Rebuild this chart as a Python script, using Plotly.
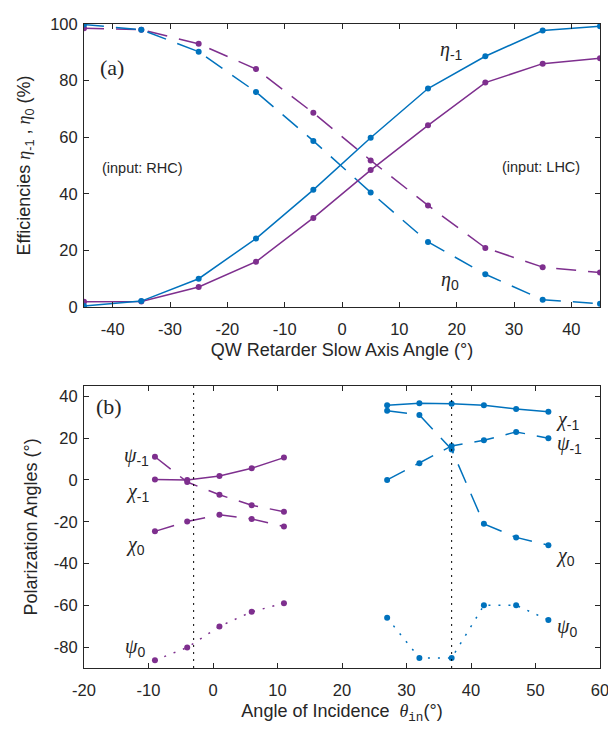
import plotly.graph_objects as go

# ---------------- data: panel (a) ----------------
qw_angle = [-45, -35, -25, -15, -5, 5, 15, 25, 35, 45]
eta_m1_blue = [0.4, 2.1, 10.0, 24.2, 41.4, 59.8, 77.2, 88.6, 97.7, 99.2]
eta_m1_purple = [1.9, 2.0, 7.1, 16.0, 31.5, 48.4, 64.2, 79.3, 86.0, 87.9]
eta_0_blue = [99.8, 98.0, 90.2, 76.0, 58.7, 40.5, 23.0, 11.6, 2.6, 1.2]
eta_0_purple = [98.5, 98.0, 93.0, 84.1, 68.6, 51.8, 35.9, 20.9, 14.1, 12.2]

# ---------------- data: panel (b) ----------------
aoi_left = [-9, -4, 1, 6, 11]
chi_m1_left = [0.2, 0.0, 1.9, 5.6, 10.7]
psi_m1_left = [11.1, -1.0, -7.1, -12.1, -15.2]
chi_0_left = [-24.6, -19.9, -16.6, -18.7, -22.3]
psi_0_left = [-86.3, -80.2, -70.1, -63.1, -59.0]

aoi_right = [27, 32, 37, 42, 47, 52]
chi_m1_right = [35.8, 36.7, 36.5, 35.8, 34.0, 32.6]
psi_m1_right = [0.0, 8.0, 16.3, 19.0, 23.0, 20.0]
chi_0_right = [33.1, 31.1, 14.6, -21.0, -27.5, -31.2]
psi_0_right = [-66.0, -85.2, -85.2, -60.0, -60.0, -67.0]

critical_angles = [-3, 37]

# ---------------- tick labels ----------------
x1_ticks = [-40, -30, -20, -10, 0, 10, 20, 30, 40]
y1_ticks = [0, 20, 40, 60, 80, 100]
x2_ticks = [-20, -10, 0, 10, 20, 30, 40, 50, 60]
y2_ticks = [-80, -60, -40, -20, 0, 20, 40]
x1_labels = ["-40", "-30", "-20", "-10", "0", "10", "20", "30", "40"]
y1_labels = ["0", "20", "40", "60", "80", "100"]
x2_labels = ["-20", "-10", "0", "10", "20", "30", "40", "50", "60"]
y2_labels = ["-80", "-60", "-40", "-20", "0", "20", "40"]

BLUE = "#0072BD"
PURPLE = "#7E2F8E"
AX = "#262626"
DASH = "20px,12px"
DOT = "2px,8px"

fig = go.Figure()


def add(x, y, color, dash, xa, ya):
    fig.add_trace(go.Scatter(
        x=x, y=y, mode="lines+markers", xaxis=xa, yaxis=ya,
        line=dict(color=color, width=1.5, dash=dash),
        marker=dict(color=color, size=6), showlegend=False,
        hoverinfo="skip"))


add(qw_angle, eta_0_purple, PURPLE, DASH, "x", "y")
add(qw_angle, eta_0_blue, BLUE, DASH, "x", "y")
add(qw_angle, eta_m1_purple, PURPLE, "solid", "x", "y")
add(qw_angle, eta_m1_blue, BLUE, "solid", "x", "y")

add(aoi_left, chi_m1_left, PURPLE, "solid", "x2", "y2")
add(aoi_left, psi_m1_left, PURPLE, DASH, "x2", "y2")
add(aoi_left, chi_0_left, PURPLE, DASH, "x2", "y2")
add(aoi_left, psi_0_left, PURPLE, DOT, "x2", "y2")

add(aoi_right, chi_m1_right, BLUE, "solid", "x2", "y2")
add(aoi_right, psi_m1_right, BLUE, DASH, "x2", "y2")
add(aoi_right, chi_0_right, BLUE, DASH, "x2", "y2")
add(aoi_right, psi_0_right, BLUE, DOT, "x2", "y2")

for xc in critical_angles:
    fig.add_trace(go.Scatter(
        x=[xc, xc], y=[-90, 45], mode="lines", xaxis="x2", yaxis="y2",
        line=dict(color="#000000", width=1, dash="2px,5px"),
        showlegend=False, hoverinfo="skip"))

SERIF = "Liberation Serif"
SANS = "Liberation Sans"


def g(sym):
    return "<span style='font-family:%s'><i>%s</i></span>" % (SERIF, sym)


anns = []


def ann(text, x, y, xref, yref, size=17, family=SANS, xanchor="left"):
    anns.append(dict(text=text, x=x, y=y, xref=xref, yref=yref,
                     showarrow=False, xanchor=xanchor, yanchor="middle",
                     font=dict(family=family, size=size, color=AX)))


ann("(a)", -42.6, 84.7, "x", "y", size=22, family=SERIF)
ann("(input: RHC)", -34.8, 49, "x", "y", size=14.5, xanchor="center")
ann("(input: LHC)", 34.7, 49.5, "x", "y", size=14.5, xanchor="center")
ann(g("η") + "<sub>-1</sub>", 16.8, 90.5, "x", "y", size=20)
ann(g("η") + "<sub>0</sub>", 17.0, 9.5, "x", "y", size=20)

ann("(b)", -18.4, 35, "x2", "y2", size=22, family=SERIF)
ann(g("ψ") + "<sub>-1</sub>", -9.6, 11, "x2", "y2", size=20, xanchor="right")
ann(g("χ") + "<sub>-1</sub>", -9.6, -6, "x2", "y2", size=20, xanchor="right")
ann(g("χ") + "<sub>0</sub>", -10.2, -31.5, "x2", "y2", size=20, xanchor="right")
ann(g("ψ") + "<sub>0</sub>", -10.2, -80, "x2", "y2", size=20, xanchor="right")
ann(g("χ") + "<sub>-1</sub>", 52.8, 28.5, "x2", "y2", size=20)
ann(g("ψ") + "<sub>-1</sub>", 53.0, 17.2, "x2", "y2", size=20)
ann(g("χ") + "<sub>0</sub>", 52.8, -36.5, "x2", "y2", size=20)
ann(g("ψ") + "<sub>0</sub>", 53.0, -70.5, "x2", "y2", size=20)

axis_common = dict(showline=True, linecolor=AX, linewidth=1, mirror="ticks",
                   ticks="inside", ticklen=5, tickcolor=AX, tickwidth=1,
                   showgrid=False, zeroline=False, ticklabeloverflow="allow",
                   tickfont=dict(family=SANS, size=16.5, color=AX))

# the page body adds an 8px margin, so the figure is 8px smaller than the window
fig.update_layout(
    width=608, height=722,
    margin=dict(l=76, r=9, t=7, b=62),
    paper_bgcolor="white", plot_bgcolor="white",
    font=dict(family=SANS, color=AX),
    annotations=anns,
    xaxis=dict(domain=[0, 1], anchor="y", range=[-45, 45], tickvals=x1_ticks, ticktext=x1_labels,
               ticklabelstandoff=7,
               title=dict(text="QW Retarder Slow Axis Angle (°)", font=dict(size=18), standoff=6),
               **axis_common),
    yaxis=dict(domain=[0.5605, 1], anchor="x", range=[0, 100], tickvals=y1_ticks, ticktext=y1_labels,
               ticklabelstandoff=2,
               title=dict(text="Efficiencies " + g("η") + "<sub>-1</sub> , " + g("η") + "<sub>0</sub> (%)",
                          font=dict(size=18), standoff=14),
               **axis_common),
    xaxis2=dict(domain=[0, 1], anchor="y2", range=[-20, 60], tickvals=x2_ticks, ticktext=x2_labels,
                ticklabelstandoff=7,
                title=dict(text="Angle of Incidence  " + g("θ") +
                           "<sub><span style='font-family:Liberation Mono'>in</span></sub>(°)",
                           font=dict(size=18), standoff=6),
                **axis_common),
    yaxis2=dict(domain=[0, 0.438], anchor="x2", range=[-90, 45], tickvals=y2_ticks, ticktext=y2_labels,
                ticklabelstandoff=2,
                title=dict(text="Polarization Angles (°)", font=dict(size=18), standoff=11),
                **axis_common),
)

fig.write_html("out.html")
